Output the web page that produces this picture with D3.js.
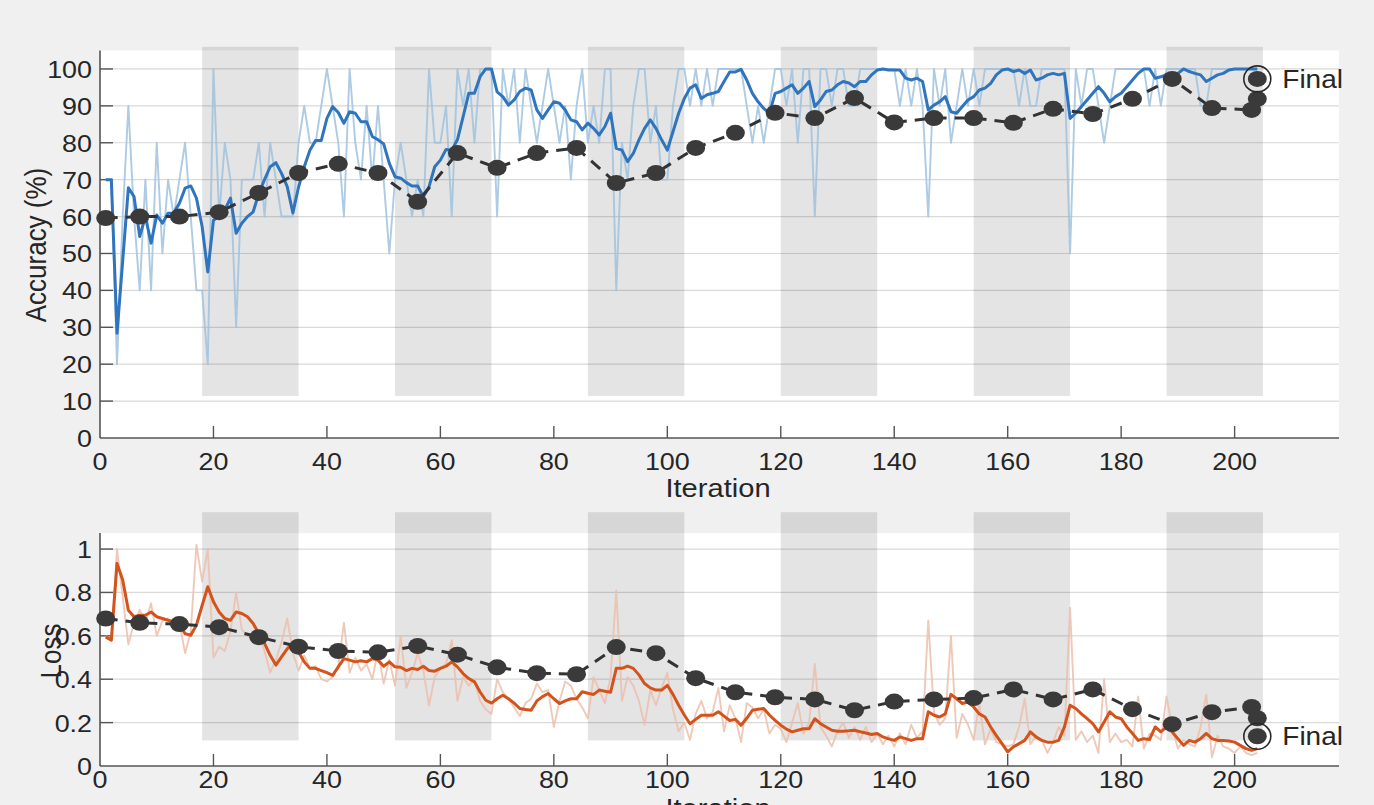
<!DOCTYPE html>
<html>
<head>
<meta charset="utf-8">
<script src="https://cdn.jsdelivr.net/npm/d3@7"></script>
<style>
  html, body { margin: 0; padding: 0; background: #f0f0f0; }
  svg { display: block; }
  text { font-family: "Liberation Sans", Arial, Helvetica, sans-serif; fill: #262626; }
</style>
</head>
<body>
<svg id="chart" width="1374" height="805"></svg>
<script>
// ---- training progress data (iterations 1..204) ----
const accRaw = [
  70,70,20,60,90,60,40,70,40,80,
  50,70,60,70,80,60,40,40,20,100,
  60,80,70,30,70,70,70,80,60,80,
  70,60,60,60,80,90,80,80,90,100,
  90,80,60,100,80,70,90,70,90,70,
  50,70,80,70,60,70,60,100,80,80,
  90,60,100,90,100,80,100,100,100,60,
  100,90,100,80,100,90,80,90,100,90,
  80,90,70,90,100,80,90,80,100,100,
  40,80,70,90,100,100,80,90,70,70,
  90,100,100,90,100,90,100,90,100,100,
  100,100,100,90,80,90,80,90,100,100,
  90,100,80,100,100,60,100,100,90,100,
  100,90,90,100,100,100,100,100,100,100,
  90,100,90,100,90,60,100,90,100,80,
  90,100,90,100,90,100,100,100,100,100,
  100,90,100,90,90,100,100,100,100,100,
  50,100,90,100,100,90,80,90,100,100,
  100,100,100,100,90,100,90,100,100,100,
  100,100,100,90,90,100,100,100,100,100,
  100,100,100,100
];
const accSmooth = [
  70,70,28.4,48,67.8,65.4,54.6,60,52.8,60.4,
  58.2,60.9,61,63.6,67.7,68.3,65,57.3,45,59,
  60,61.8,65,55.5,58.2,60,61.3,66.3,70,73.5,
  74.6,71.7,68.1,61,68,73.5,78,80.6,80.6,86.6,
  89.8,88.2,85.3,88.4,88,85.7,85.7,81.7,80.8,79.7,
  74.4,70.8,70.4,69.2,68.3,68.3,65.4,68.1,73.5,75.3,
  78.2,78,80.8,87,93.4,93.4,97.9,100,100,93.8,
  92.5,90.2,91.6,93.9,94.8,94.3,88.9,86.6,88.9,91.1,
  90.7,88.9,86.2,85.7,83.5,85.3,83.9,82.1,84.4,88,
  78.5,78,74.9,77.1,80.8,83.9,86.2,83.9,80.8,78,
  83,88,92,94.8,95.7,92,93,93.4,93.9,96.6,
  99.2,99.2,99.9,97,93.4,91.1,89.3,88,93.4,93.9,
  94.8,95.7,93.4,94.8,96.6,89.8,91.6,93.9,94.3,95.7,
  96.6,96.2,95.2,96.6,96.6,98.4,99.7,100,99.7,99.7,
  99.7,97.5,97,97.5,96.6,88.9,90.2,91.1,92.5,88.4,
  88,89.8,91.6,92.5,94.3,94.8,96.1,98.4,99.7,100,
  99.3,99.7,98.8,99.7,97,97.5,98.4,98.8,98.4,98.8,
  86.6,88,89.8,91.6,93.4,95.2,93.4,91.1,92.5,93.4,
  95.2,97,98.8,100,100,97.5,97.9,98.4,98.8,98.8,
  100,99.3,98.8,98.4,96.6,97.5,98.4,98.8,99.7,100,
  100,100,100,100
];
const lossRaw = [
  0.60,0.58,1.00,0.78,0.56,0.66,0.72,0.66,0.75,0.60,
  0.67,0.68,0.64,0.66,0.52,0.62,1.02,0.85,1.00,0.50,
  0.55,0.53,0.62,0.80,0.63,0.60,0.58,0.60,0.53,0.43,
  0.49,0.57,0.68,0.52,0.44,0.51,0.45,0.46,0.40,0.39,
  0.41,0.46,0.66,0.43,0.50,0.44,0.47,0.40,0.53,0.38,
  0.49,0.37,0.60,0.36,0.43,0.52,0.44,0.28,0.41,0.45,
  0.47,0.58,0.30,0.41,0.37,0.40,0.30,0.26,0.24,0.40,
  0.34,0.31,0.27,0.23,0.29,0.31,0.38,0.34,0.35,0.18,
  0.30,0.39,0.37,0.31,0.27,0.22,0.41,0.35,0.29,0.41,
  0.81,0.30,0.41,0.37,0.30,0.19,0.35,0.28,0.36,0.43,
  0.26,0.16,0.20,0.12,0.24,0.30,0.22,0.25,0.36,0.16,
  0.28,0.22,0.11,0.29,0.27,0.22,0.26,0.15,0.19,0.17,
  0.11,0.20,0.29,0.15,0.20,0.47,0.18,0.14,0.09,0.16,
  0.20,0.13,0.18,0.12,0.18,0.11,0.15,0.10,0.14,0.09,
  0.15,0.10,0.19,0.13,0.16,0.67,0.25,0.19,0.22,0.60,
  0.13,0.24,0.19,0.12,0.29,0.10,0.17,0.11,0.10,0.09,
  0.10,0.18,0.31,0.10,0.14,0.12,0.06,0.11,0.18,0.14,
  0.73,0.12,0.16,0.11,0.14,0.06,0.40,0.11,0.15,0.11,
  0.12,0.09,0.32,0.08,0.15,0.14,0.12,0.32,0.18,0.08,
  0.12,0.10,0.09,0.18,0.33,0.04,0.14,0.09,0.08,0.06,
  0.09,0.06,0.05,0.06
];
const lossSmooth = [
  0.595,0.58,0.934,0.857,0.718,0.688,0.695,0.695,0.71,0.688,
  0.68,0.672,0.665,0.65,0.61,0.603,0.65,0.74,0.826,0.757,
  0.71,0.68,0.672,0.71,0.703,0.688,0.657,0.61,0.565,0.51,
  0.465,0.503,0.54,0.565,0.526,0.48,0.45,0.45,0.44,0.43,
  0.418,0.457,0.495,0.488,0.48,0.485,0.48,0.495,0.488,0.46,
  0.48,0.457,0.455,0.44,0.45,0.445,0.46,0.44,0.437,0.45,
  0.46,0.48,0.457,0.426,0.403,0.388,0.341,0.303,0.29,0.31,
  0.326,0.31,0.29,0.265,0.26,0.257,0.30,0.32,0.334,0.31,
  0.288,0.30,0.31,0.31,0.342,0.335,0.33,0.35,0.345,0.34,
  0.45,0.45,0.46,0.45,0.42,0.38,0.36,0.35,0.35,0.372,
  0.33,0.28,0.235,0.195,0.215,0.234,0.234,0.234,0.25,0.23,
  0.21,0.215,0.188,0.22,0.257,0.262,0.265,0.235,0.21,0.188,
  0.17,0.157,0.165,0.172,0.172,0.218,0.195,0.18,0.165,0.16,
  0.16,0.162,0.165,0.158,0.152,0.145,0.15,0.134,0.125,0.118,
  0.134,0.126,0.118,0.126,0.126,0.25,0.234,0.226,0.24,0.33,
  0.31,0.288,0.295,0.272,0.24,0.226,0.18,0.14,0.103,0.065,
  0.088,0.103,0.118,0.157,0.134,0.118,0.11,0.11,0.118,0.18,
  0.28,0.265,0.24,0.218,0.195,0.157,0.203,0.25,0.226,0.218,
  0.18,0.15,0.118,0.126,0.122,0.18,0.157,0.18,0.157,0.126,
  0.095,0.118,0.11,0.126,0.15,0.126,0.118,0.118,0.115,0.11,
  0.095,0.08,0.072,0.08
];
const valIter = [1,7,14,21,28,35,42,49,56,63,70,77,84,91,98,105,112,119,126,133,140,147,154,161,168,175,182,189,196,203,204];
const valAcc = [59.6,60,60,61.2,66.4,71.8,74.3,71.8,64,77.2,73.2,77.2,78.6,69.1,71.8,78.6,82.7,88.1,86.7,92.1,85.5,86.7,86.7,85.4,89.2,87.8,91.9,97.3,89.4,88.9,91.9];
const valLoss = [0.68,0.66,0.654,0.64,0.594,0.55,0.53,0.524,0.553,0.513,0.455,0.428,0.423,0.548,0.52,0.405,0.34,0.317,0.307,0.257,0.297,0.307,0.313,0.353,0.307,0.353,0.262,0.193,0.248,0.272,0.22];
const finalIter = 204;
const finalAcc = 97.3;
const finalLoss = 0.137;
// shaded epochs (every other epoch of 17 iterations)
const epochBands = [[18,35],[52,69],[86,103],[120,137],[154,171],[188,205]];
const xTicks = [0,20,40,60,80,100,120,140,160,180,200];
const accTicks = [0,10,20,30,40,50,60,70,80,90,100];
const lossTicks = [0,0.2,0.4,0.6,0.8,1];
const lossTickLabels = ["0","0.2","0.4","0.6","0.8","1"];

// ---- drawing ----
const svg = d3.select("#chart");
const SX = 1.12;              // horizontal text stretch
const x = d3.scaleLinear().domain([0, 218.4]).range([100, 1339]);
const yAcc = d3.scaleLinear().domain([0, 105]).range([438, 50.5]);
const yLoss = d3.scaleLinear().domain([0, 1.074]).range([766, 533]);
const iters = d3.range(1, 205);

function label(g, px, py, str, size, anchor, rotate) {
  return g.append("text")
    .attr("transform", `translate(${px},${py}) scale(${SX},1)` + (rotate ? ` rotate(${rotate})` : ""))
    .attr("text-anchor", anchor)
    .style("font-size", size + "px")
    .text(str);
}

function panel(cfg) {
  const g = svg.append("g");
  const y = cfg.y;
  const [y0, y1] = y.range();
  // plot background
  g.append("rect").attr("x", x.range()[0]).attr("y", y1)
    .attr("width", x.range()[1] - x.range()[0]).attr("height", y0 - y1).attr("fill", "#ffffff");
  // horizontal grid
  g.selectAll("line.grid").data(cfg.ticks.filter(d => d > 0)).join("line")
    .attr("x1", x.range()[0]).attr("x2", x.range()[1])
    .attr("y1", d => y(d)).attr("y2", d => y(d))
    .attr("stroke", "#d9d9d9").attr("stroke-width", 1.2);
  // epoch shading
  g.selectAll("rect.band").data(epochBands).join("rect")
    .attr("x", d => x(d[0])).attr("width", d => x(d[1]) - x(d[0]))
    .attr("y", y(cfg.bandTop)).attr("height", y(cfg.bandBottom) - y(cfg.bandTop))
    .attr("fill", "#000").attr("fill-opacity", 0.105);
  // axis lines
  g.append("line").attr("x1", x.range()[0]).attr("x2", x.range()[0])
    .attr("y1", y0).attr("y2", y1).attr("stroke", "#555").attr("stroke-width", 1.6);
  g.append("line").attr("x1", x.range()[0]).attr("x2", x.range()[1])
    .attr("y1", y0).attr("y2", y0).attr("stroke", "#555").attr("stroke-width", 1.6);
  // y ticks and labels
  cfg.ticks.forEach((t, i) => {
    if (t > 0) g.append("line").attr("x1", x.range()[0]).attr("x2", x.range()[0] + 13)
      .attr("y1", y(t)).attr("y2", y(t)).attr("stroke", "#555").attr("stroke-width", 1.4);
    label(g, 92, y(t) + 9, cfg.tickLabels[i], 24, "end");
  });
  // x ticks and labels
  xTicks.forEach(t => {
    if (t > 0) g.append("line").attr("x1", x(t)).attr("x2", x(t))
      .attr("y1", y0).attr("y2", y0 - 12).attr("stroke", "#555").attr("stroke-width", 1.4);
    label(g, x(t), cfg.xLabelY, String(t), 24, "middle");
  });
  // raw series
  const line = d3.line().x((d, i) => x(iters[i])).y(d => y(d));
  g.append("path").datum(cfg.raw).attr("d", line).attr("fill", "none")
    .attr("stroke", cfg.rawColor).attr("stroke-width", 1.9).attr("stroke-opacity", 0.85)
    .attr("stroke-linejoin", "round");
  // smoothed series
  g.append("path").datum(cfg.smooth).attr("d", line).attr("fill", "none")
    .attr("stroke", cfg.color).attr("stroke-width", 3).attr("stroke-linejoin", "round");
  // validation
  const vline = d3.line().x((d, i) => x(valIter[i])).y(d => y(d));
  g.append("path").datum(cfg.val).attr("d", vline).attr("fill", "none")
    .attr("stroke", "#333").attr("stroke-width", 3).attr("stroke-dasharray", "12,8");
  g.selectAll("ellipse.val").data(cfg.val).join("ellipse")
    .attr("cx", (d, i) => x(valIter[i])).attr("cy", d => y(d))
    .attr("rx", 9.5).attr("ry", 8).attr("fill", "#3a3a3a");
  // final value
  g.append("ellipse").attr("cx", x(finalIter)).attr("cy", y(cfg.final))
    .attr("rx", 9.5).attr("ry", 8).attr("fill", "#3a3a3a");
  g.append("ellipse").attr("cx", x(finalIter)).attr("cy", y(cfg.final))
    .attr("rx", 13.5).attr("ry", 13).attr("fill", "none").attr("stroke", "#2a2a2a").attr("stroke-width", 1.6);
  label(g, x(finalIter) + 25, y(cfg.final) + 9, "Final", 25, "start");
  // axis titles
  label(g, 718, cfg.titleY, "Iteration", 26, "middle");
  label(g, cfg.yTitleX, cfg.yTitleY, cfg.yTitle, 26, "middle", -90);
  return g;
}

panel({
  y: yAcc, ticks: accTicks, tickLabels: accTicks.map(String),
  raw: accRaw, smooth: accSmooth, val: valAcc, final: finalAcc,
  color: "#2f74bd", rawColor: "#9fc2de",
  bandTop: 106, bandBottom: 11.4,
  xLabelY: 470, titleY: 497,
  yTitle: "Accuracy (%)", yTitleX: 46, yTitleY: 245
});

panel({
  y: yLoss, ticks: lossTicks, tickLabels: lossTickLabels,
  raw: lossRaw, smooth: lossSmooth, val: valLoss, final: finalLoss,
  color: "#d4531c", rawColor: "#ecc0ac",
  bandTop: 1.17, bandBottom: 0.118,
  xLabelY: 788, titleY: 817,
  yTitle: "Loss", yTitleX: 61, yTitleY: 651
});
</script>
</body>
</html>
